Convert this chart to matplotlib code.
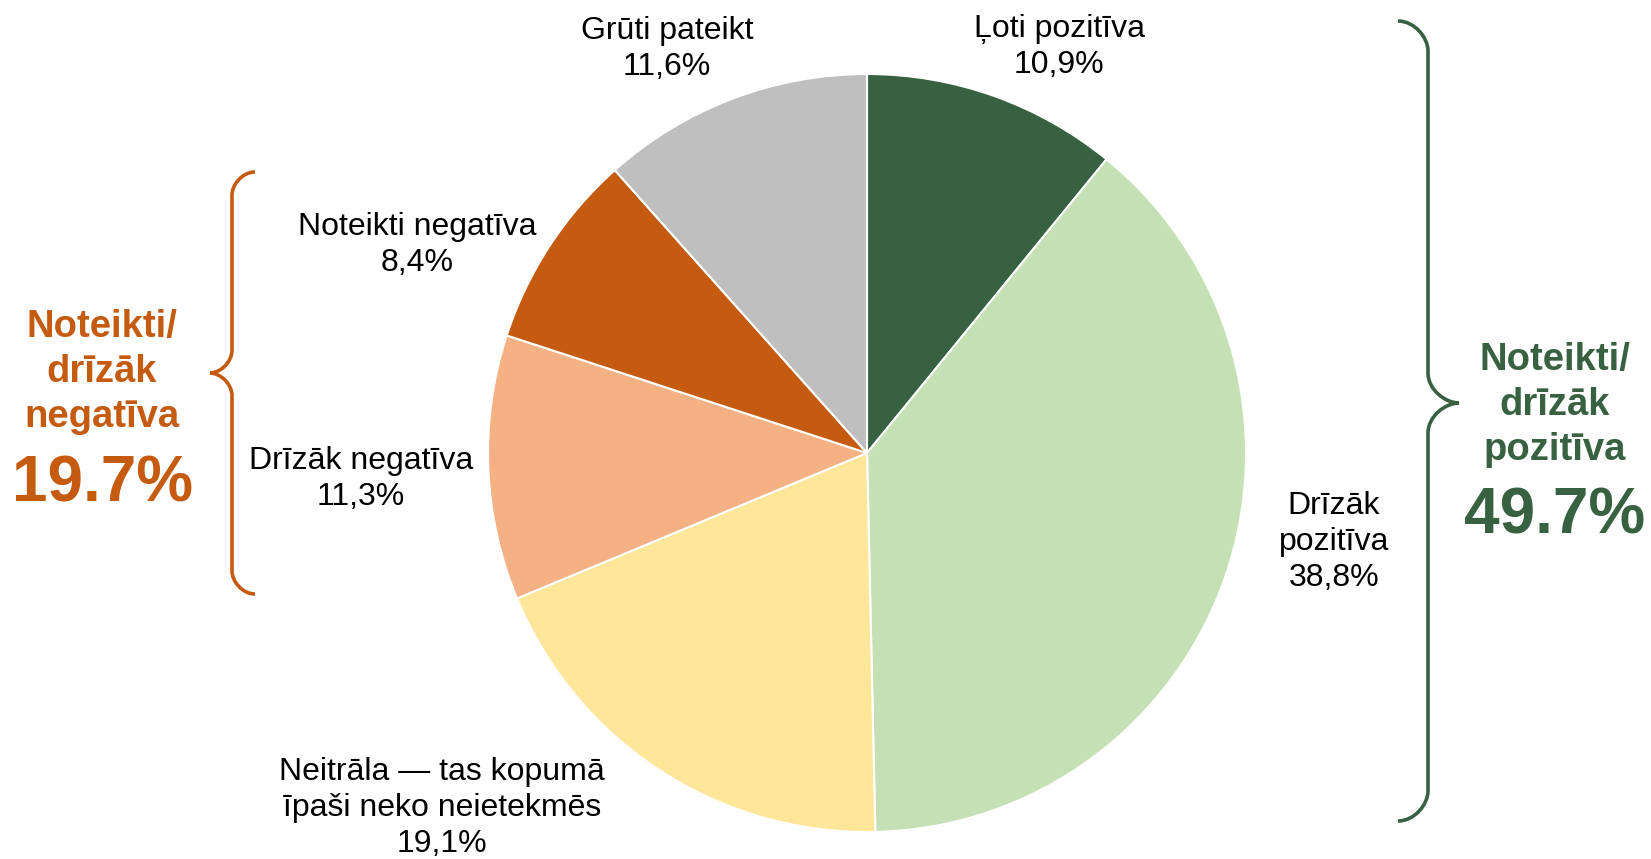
import matplotlib.pyplot as plt
from matplotlib.path import Path
from matplotlib.patches import PathPatch

plt.rcParams["font.family"] = ["Liberation Sans", "DejaVu Sans"]

categories = ["Ļoti pozitīva", "Drīzāk pozitīva",
              "Neitrāla — tas kopumā īpaši neko neietekmēs",
              "Drīzāk negatīva", "Noteikti negatīva", "Grūti pateikt"]
values = [10.9, 38.8, 19.1, 11.3, 8.4, 11.6]
colors = ["#376140", "#c5e0b4", "#ffe699", "#f4b183", "#c55a11", "#bfbfbf"]

label_texts = ["Ļoti pozitīva\n10,9%", "Drīzāk\npozitīva\n38,8%",
               "Neitrāla — tas kopumā\nīpaši neko neietekmēs\n19,1%",
               "Drīzāk negatīva\n11,3%", "Noteikti negatīva\n8,4%",
               "Grūti pateikt\n11,6%"]

neg_total = "19.7%"
pos_total = "49.7%"

W, H = 1651, 859
fig = plt.figure(figsize=(W / 100, H / 100), dpi=100)
ax = fig.add_axes([0, 0, 1, 1])

# pixel-like coords, y measured upward
cx, cy, r = 867, H - 453, 379
ax.pie(values, colors=colors, startangle=90, counterclock=False,
       center=(cx, cy), radius=r,
       wedgeprops=dict(edgecolor="white", linewidth=1.5))
ax.set_xlim(0, W)
ax.set_ylim(0, H)
ax.set_aspect("equal")
ax.axis("off")

# slice labels (x, y of text centre, y from top)
label_pos = [(1059, 47), (1334, 542), (442, 808), (361, 479), (417, 245), (667, 49)]
for txt, (x, y) in zip(label_texts, label_pos):
    ax.text(x, H - y, txt, ha="center", va="center", fontsize=23,
            linespacing=1.25, color="black")


def brace(x_end, x_line, x_tip, y_top, y_tip, y_bot, color):
    # curly brace; x_end where the arms end, x_line the vertical, x_tip the point
    k = 0.55
    dx1 = x_end - x_line
    dx2 = x_tip - x_line
    c = abs(dx1)
    verts = [
        (x_end, H - y_top),
        (x_line + dx1 * (1 - k), H - y_top), (x_line, H - y_top - c * k), (x_line, H - y_top - c),
        (x_line, H - y_tip + c),
        (x_line, H - y_tip + c * (1 - k)), (x_tip - dx2 * (1 - k), H - y_tip), (x_tip, H - y_tip),
        (x_tip - dx2 * (1 - k), H - y_tip), (x_line, H - y_tip - c * (1 - k)), (x_line, H - y_tip - c),
        (x_line, H - y_bot + c),
        (x_line, H - y_bot + c * k), (x_line + dx1 * (1 - k), H - y_bot), (x_end, H - y_bot),
    ]
    codes = [Path.MOVETO,
             Path.CURVE4, Path.CURVE4, Path.CURVE4,
             Path.LINETO,
             Path.CURVE4, Path.CURVE4, Path.CURVE4,
             Path.CURVE4, Path.CURVE4, Path.CURVE4,
             Path.LINETO,
             Path.CURVE4, Path.CURVE4, Path.CURVE4]
    ax.add_patch(PathPatch(Path(verts, codes), facecolor="none",
                           edgecolor=color, linewidth=2.6, capstyle="butt"))


neg_color = "#c55a11"
pos_color = "#376140"
brace(255, 232, 210, 172, 373, 594, neg_color)
brace(1398, 1428, 1459, 21, 403, 821, pos_color)

ax.text(102, H - 372, "Noteikti/\ndrīzāk\nnegatīva", ha="center", va="center",
        fontsize=27.5, fontweight="bold", color=neg_color, linespacing=1.32)
ax.text(102, H - 484, neg_total, ha="center", va="center",
        fontsize=46, fontweight="bold", color=neg_color)
ax.text(1555, H - 405, "Noteikti/\ndrīzāk\npozitīva", ha="center", va="center",
        fontsize=27.5, fontweight="bold", color=pos_color, linespacing=1.32)
ax.text(1555, H - 516, pos_total, ha="center", va="center",
        fontsize=46, fontweight="bold", color=pos_color)

fig.savefig("out.png", dpi=100, facecolor="white")
